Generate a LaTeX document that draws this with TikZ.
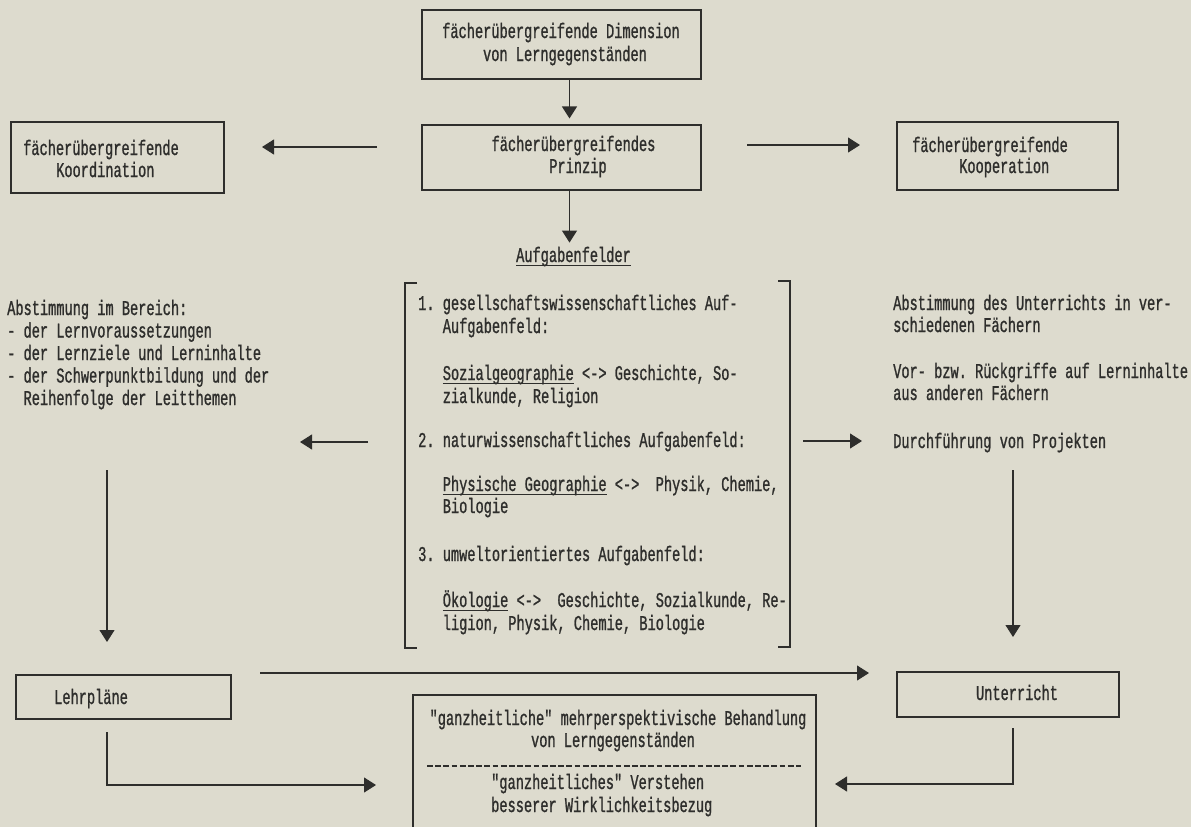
\documentclass[tikz,border=0pt]{standalone}
\usepackage{fontspec}
\setmonofont[FakeStretch=0.65, FakeBold=1]{Liberation Mono}
\usetikzlibrary{arrows.meta}
\definecolor{paper}{RGB}{221,219,206}
\definecolor{ink}{RGB}{46,46,44}
\newcommand\fsz{\ttfamily\fontsize{21}{22}\selectfont}
% underline sitting just below the baseline, as on a typewriter
\newcommand\ulword[1]{\setbox0\hbox{#1}\rlap{\rule[-3.5pt]{\wd0}{1pt}}\box0\relax}
\tikzset{
  txt/.style={anchor=base west, inner sep=0pt, text=ink, font=\fsz},
  ctxt/.style={anchor=base, inner sep=0pt, text=ink, font=\fsz},
  box/.style={draw=ink, line width=1.1pt, inner sep=0pt, rectangle},
  arr/.style={draw=ink, line width=1.1pt, -{Triangle[width=15pt,length=12pt]}},
  brk/.style={draw=ink, line width=1.1pt},
  typedrule/.style={draw=ink, line width=1.3pt, dash pattern=on 5.8pt off 2.4pt},
}
\begin{document}
\begin{tikzpicture}[x=1pt,y=-1pt]
\useasboundingbox (0,0) rectangle (1191,827);
\fill[paper] (0,0) rectangle (1191,827);
\clip (0,0) rectangle (1191,827);

% ---------- boxes ----------
\node[box, minimum width=279pt, minimum height=69pt] (dim)   at (561.5,44.5) {};
\node[box, minimum width=279pt, minimum height=65pt] (prinz) at (561.5,157.5) {};
\node[box, minimum width=213pt, minimum height=71pt] (koord) at (117.5,157.5) {};
\node[box, minimum width=221pt, minimum height=68pt] (koop)  at (1007.5,156) {};
\node[box, minimum width=215pt, minimum height=44pt] (lehr)  at (123.5,697) {};
\node[box, minimum width=222pt, minimum height=45pt] (unter) at (1008,694.5) {};
\node[box, minimum width=403pt, minimum height=160pt] (ganz) at (614.5,775) {};

% ---------- box texts ----------
\node[ctxt] (dim1) at (561,38) {fächerübergreifende Dimension};
\node[ctxt] (dim2) at (565,61) {von Lerngegenständen};
\node[ctxt] (pr1) at (573.5,151) {fächerübergreifendes};
\node[ctxt] (pr2) at (578,173) {Prinzip};
\node[txt] (ko1) at (23,155) {fächerübergreifende};
\node[txt] (ko2) at (56,177) {Koordination};
\node[txt] (kp1) at (912,152) {fächerübergreifende};
\node[txt] (kp2) at (959,173) {Kooperation};
\node[txt] (le1) at (54,704) {Lehrpläne};
\node[ctxt] (un1) at (1017,700) {Unterricht};
\node[ctxt] (ga1) at (618,725) {"ganzheitliche" mehrperspektivische Behandlung};
\node[ctxt] (ga2) at (613,747) {von Lerngegenständen};
\coordinate (sepL) at (427,766);
\coordinate (sepR) at (801,766);
\draw[typedrule] (sepL) -- (sepR);
\node[txt] (ga3) at (491,789) {"ganzheitliches" Verstehen};
\node[txt] (ga4) at (491,812) {besserer Wirklichkeitsbezug};

% ---------- Aufgabenfelder ----------
\node[ctxt] (aufg) at (573.5,262) {\ulword{Aufgabenfelder}};
\draw[brk] (417,283) -- (405,283) -- (405,648) -- (417,648);
\draw[brk] (778,281) -- (790,281) -- (790,647) -- (778,647);
\node[txt] (f1a) at (418,310) {1. gesellschaftswissenschaftliches Auf-};
\node[txt] (f1b) at (442.6,333) {Aufgabenfeld:};
\node[txt] (f1c) at (442.6,380) {\ulword{Sozialgeographie} <-> Geschichte, So-};
\node[txt] (f1d) at (442.6,403) {zialkunde, Religion};
\node[txt] (f2a) at (418,447) {2. naturwissenschaftliches Aufgabenfeld:};
\node[txt] (f2b) at (442.6,491) {\ulword{Physische Geographie} <->~ Physik, Chemie,};
\node[txt] (f2c) at (442.6,513) {Biologie};
\node[txt] (f3a) at (418,561) {3. umweltorientiertes Aufgabenfeld:};
\node[txt] (f3b) at (442.6,607) {\ulword{Ökologie} <->~ Geschichte, Sozialkunde, Re-};
\node[txt] (f3c) at (442.6,630) {ligion, Physik, Chemie, Biologie};

% ---------- side texts ----------
\node[txt] (l1) at (7,315)   {Abstimmung im Bereich:};
\node[txt] (l2) at (7,337.5) {- der Lernvoraussetzungen};
\node[txt] (l3) at (7,360)   {- der Lernziele und Lerninhalte};
\node[txt] (l4) at (7,382.5) {- der Schwerpunktbildung und der};
\node[txt] (l5) at (23.4,405) {Reihenfolge der Leitthemen};

\node[txt] (r1) at (893,310) {Abstimmung des Unterrichts in ver-};
\node[txt] (r2) at (893,332) {schiedenen Fächern};
\node[txt] (r3) at (893,378) {Vor- bzw. Rückgriffe auf Lerninhalte};
\node[txt] (r4) at (893,400) {aus anderen Fächern};
\node[txt] (r5) at (893,448) {Durchführung von Projekten};

% ---------- connector ends ----------
\coordinate (ax) at (569.5,0);
\coordinate (kl1) at (377,147);  \coordinate (kl2) at (262,147);
\coordinate (kr1) at (747,145);  \coordinate (kr2) at (860,145);
\coordinate (ml1) at (368,442);  \coordinate (ml2) at (300,442);
\coordinate (mr1) at (803,441);  \coordinate (mr2) at (862,441);
\coordinate (vl1) at (107,470);  \coordinate (vl2) at (107,642);
\coordinate (vr1) at (1013,470); \coordinate (vr2) at (1013,637);
\coordinate (h1) at (260,673);   \coordinate (h2) at (869,673);
\coordinate (lb1) at (107,732);  \coordinate (lb2) at (376,785);
\coordinate (ub1) at (1013,728); \coordinate (ub2) at (835,784);

% ---------- connectors ----------
\draw[arr, shorten >=6pt] (dim.south -| ax) -- (prinz.north -| ax);
\draw[arr, shorten >=4pt] (prinz.south -| ax) -- (aufg.north -| ax);
\draw[arr] (kl1) -- (kl2);
\draw[arr] (kr1) -- (kr2);
\draw[arr] (ml1) -- (ml2);
\draw[arr] (mr1) -- (mr2);
\draw[arr] (vl1) -- (vl2);
\draw[arr] (vr1) -- (vr2);
\draw[arr] (h1) -- (h2);
\draw[arr] (lb1) |- (lb2);
\draw[arr] (ub1) |- (ub2);
\end{tikzpicture}
\end{document}
